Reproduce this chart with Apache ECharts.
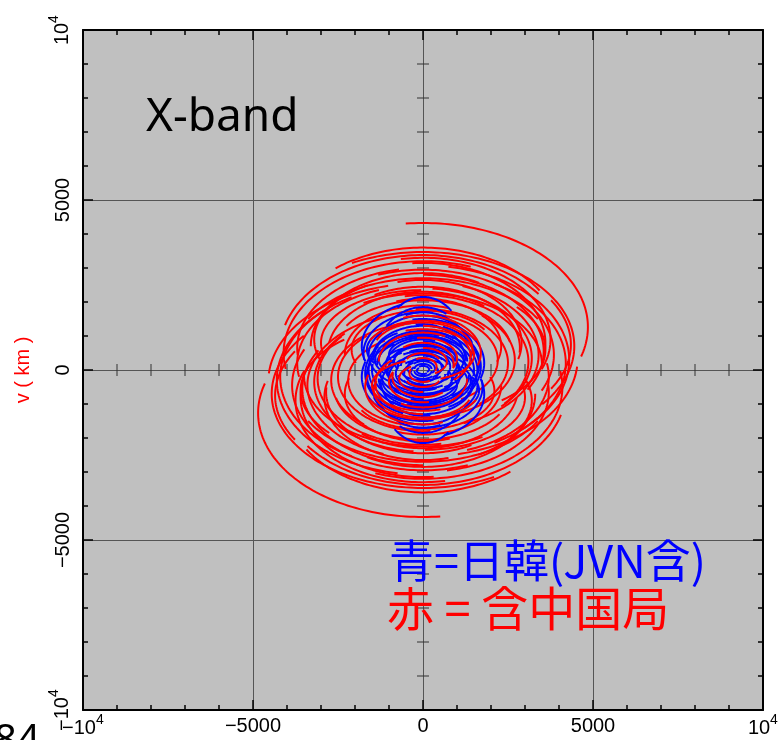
<!DOCTYPE html>
<html>
<head>
<meta charset="utf-8">
<script src="https://cdn.jsdelivr.net/npm/echarts@6/dist/echarts.min.js"></script>
<style>
  html, body { margin: 0; padding: 0; background: #ffffff; }
  #chart { width: 780px; height: 740px; }
</style>
</head>
<body>
<div id="chart"></div>
<script>
// ---- axis range (km) ----
const axisMin = -10000;
const axisMax = 10000;
const majorStep = 5000;
// inner tick labels; the ±10^4 end labels are drawn separately with a superscript
const axisLabelText = { '-5000': '−5000', '0': '0', '5000': '5000' };
const endLabelBase = { '-10000': '−10', '10000': '10' };
const endLabelExp = '4';
// small ticks drawn along the u = 0 and v = 0 lines
const zeroLineTicks = [-9000, -8000, -7000, -6000, -4000, -3000, -2000, -1000, 1000, 2000, 3000, 4000, 6000, 7000, 8000, 9000];

// ---- uv tracks: stations incl. China (red) ----
// top of the track (v at hour angle 0), ellipse centre v0, u semi-axis, hour-angle range (deg)
const redTop = [4324, 3600, 3470, 3380, 3350, 3300, 3250, 3200, 3150, 3080, 3000, 2950, 2900, 2850, 2800, 2750, 2700, 2650, 2600, 2550, 2500, 2450, 2400, 2350, 2300, 2250, 2200, 2100, 2050, 2000, 1900, 1800, 1750, 1650, 1600, 1450, 1400, 1300, 1200, 1100, 950, 800, 650, 500, 350];
const redV0  = [1265, 1000, 700, 600, 750, 900, 350, 500, 800, 300, 650, 450, 200, 700, 550, 900, 300, 800, 450, 600, 200, 650, 350, 800, 500, 150, 250, 700, 550, 300, 450, 200, 600, 300, 500, 300, 600, 400, 450, 250, 350, 200, 250, 150, 100];
const redA   = [4850, 4000, 4450, 4200, 4350, 3750, 4550, 4100, 3600, 4300, 3700, 3850, 4200, 3300, 3550, 3200, 3900, 2900, 3400, 3600, 3700, 2850, 3200, 3000, 2800, 3500, 3100, 2300, 2600, 2700, 2300, 2500, 2100, 2200, 1700, 1800, 1450, 1400, 1500, 1300, 1000, 900, 700, 550, 400];
const redH0  = [-6, -40, -28, -75, 60, -10, 95, -100, -5, 10, -95, -20, 30, -90, 0, -110, -60, -15, 20, 50, -100, -30, 5, -100, -80, -30, -10, -20, -60, 40, -90, -5, -110, 10, -20, -60, -70, 0, -20, -90, -10, -40, 0, -60, -30];
const redH1  = [107, 60, 128, 55, 120, 112, 168, 20, 100, 140, -10, 115, 150, 30, 120, -30, 60, 105, 160, 140, -20, 95, 135, 0, 40, 90, 130, 110, 80, 165, 20, 140, 60, 150, 110, 60, 110, 140, 160, 30, 120, 100, 150, 60, 120];

// ---- uv tracks: Japan-Korea incl. JVN (blue) ----
const blueTop = [2150, 1850, 2000, 1700, 1700, 1600, 1500, 1450, 1400, 1350, 1350, 1300, 1250, 1200, 1150, 1150, 1100, 1050, 1000, 1000, 950, 950, 900, 900, 850, 800, 750, 700, 700, 650, 600, 550, 500, 450, 420, 350, 300, 260, 180, 120];
const blueV0  = [400, 300, 700, 500, 200, 350, 200, 450, 600, 100, 250, 300, 150, 400, 0, 500, 250, 350, 150, 0, 300, 450, 100, 300, 200, 100, 150, 250, 200, 50, 100, 150, 120, 100, 80, 60, 80, 50, 30, 20];
const blueA   = [1300, 1400, 1800, 1750, 1500, 1550, 1800, 1600, 1650, 1700, 1250, 1500, 1650, 1450, 1600, 1200, 1300, 1400, 1350, 1500, 1200, 1000, 1100, 1300, 1000, 1250, 950, 850, 1150, 1050, 800, 900, 650, 750, 550, 450, 600, 350, 250, 180];
const blueH0  = [-35, -50, -110, -100, -20, -60, -10, -140, -120, 20, -10, -80, 40, -130, 0, -80, -60, -100, -90, -20, -20, -120, -110, -130, 0, 30, -70, -120, -60, 0, -30, -40, -90, -100, 0, -120, -60, -50, -90, -40];
const blueH1  = [40, 30, -20, 10, 60, 70, 110, -50, 0, 130, 90, 60, 140, -30, 120, 50, 90, 20, 40, 100, 130, 0, 20, -40, 140, 150, 80, 10, 60, 130, 120, 100, 60, 80, 150, 20, 140, 130, 90, 140];

// each track is an ellipse arc; its conjugate (-u, -v) is drawn as well
function buildTracks(top, v0, a, h0, h1, keep) {
  const out = [];
  for (let i = 0; i < top.length; i++) {
    if (!keep(a[i])) continue;
    const b = top[i] - v0[i];
    const arc = [];
    const conj = [];
    for (let h = h0[i]; h <= h1[i] + 1e-9; h += 1.5) {
      const r = h * Math.PI / 180;
      const u = a[i] * Math.sin(r);
      const v = v0[i] + b * Math.cos(r);
      arc.push([u, v]);
      conj.push([-u, -v]);
    }
    out.push({ coords: arc }, { coords: conj });
  }
  return out;
}

// long red baselines go under the blue tracks, short red ones over them
const redOuter = buildTracks(redTop, redV0, redA, redH0, redH1, a => a > 1800);
const redInner = buildTracks(redTop, redV0, redA, redH0, redH1, a => a <= 1800);
const blueTracks = buildTracks(blueTop, blueV0, blueA, blueH0, blueH1, () => true);

const labelFont = '"Liberation Sans", "DejaVu Sans", Arial, sans-serif';

function frameAxis(dim, position, showLabels) {
  return {
    type: 'value',
    position: position,
    min: axisMin,
    max: axisMax,
    interval: majorStep,
    axisLine: { show: true, onZero: false, lineStyle: { color: '#000', width: 2 } },
    axisTick: { show: true, inside: true, length: 10, lineStyle: { color: '#000', width: 1.5 } },
    minorTick: { show: true, splitNumber: 5, length: 5, lineStyle: { color: '#000', width: 1.5 } },
    splitLine: { show: showLabels, lineStyle: { color: '#555', width: 1 } },
    axisLabel: {
      show: showLabels,
      color: '#000',
      fontFamily: labelFont,
      fontSize: 20,
      margin: dim === 'x' ? 6 : 10,
      rotate: dim === 'y' ? 90 : 0,
      formatter: v => axisLabelText[String(v)] || ''
    }
  };
}

const chart = echarts.init(document.getElementById('chart'), null, { renderer: 'canvas' });
chart.setOption({
  animation: false,
  backgroundColor: '#ffffff',
  grid: { left: 83, top: 30, width: 680, height: 680, show: true, backgroundColor: '#c0c0c0', borderWidth: 0 },
  xAxis: [frameAxis('x', 'bottom', true), frameAxis('x', 'top', false)],
  yAxis: [frameAxis('y', 'left', true), frameAxis('y', 'right', false)],
  series: [
    {
      type: 'custom',
      silent: true,
      data: zeroLineTicks.map(v => [v]),
      renderItem: function (params, api) {
        const t = api.value(0);
        const px = api.coord([t, 0]);
        const py = api.coord([0, t]);
        const style = { stroke: '#333', lineWidth: 1 };
        return {
          type: 'group',
          children: [
            { type: 'line', shape: { x1: px[0], y1: px[1] - 6, x2: px[0], y2: px[1] + 6 }, style: style },
            { type: 'line', shape: { x1: py[0] - 6, y1: py[1], x2: py[0] + 6, y2: py[1] }, style: style }
          ]
        };
      },
      z: 1
    },
    {
      type: 'lines', coordinateSystem: 'cartesian2d', polyline: true, silent: true,
      lineStyle: { color: '#ff0000', width: 2, opacity: 1 },
      data: redOuter, z: 2
    },
    {
      type: 'lines', coordinateSystem: 'cartesian2d', polyline: true, silent: true,
      lineStyle: { color: '#0000ff', width: 2, opacity: 1 },
      data: blueTracks, z: 3
    },
    {
      type: 'lines', coordinateSystem: 'cartesian2d', polyline: true, silent: true,
      lineStyle: { color: '#ff0000', width: 2, opacity: 1 },
      data: redInner, z: 4
    }
  ]
});

// "10^4" end labels: base text plus a raised exponent, centred on the axis end
function powerLabel(base, x, y, rotation) {
  const baseW = base.length === 3 ? 34 : 22;   // width of "−10" / "10" at 20px
  const expW = 8;                               // width of "4" at 14px
  const left = -(baseW + expW) / 2;
  return {
    type: 'group', x: x, y: y, rotation: rotation, z: 10,
    children: [
      { type: 'text', x: left, y: 0, style: { text: base, fill: '#000', font: '20px ' + labelFont, textAlign: 'left', textVerticalAlign: 'middle' } },
      { type: 'text', x: left + baseW, y: -8, style: { text: endLabelExp, fill: '#000', font: '14px ' + labelFont, textAlign: 'left', textVerticalAlign: 'middle' } }
    ]
  };
}

const endLabels = [];
[axisMin, axisMax].forEach(function (v) {
  const gx = chart.convertToPixel({ xAxisIndex: 0 }, v);
  const gy = chart.convertToPixel({ yAxisIndex: 0 }, v);
  endLabels.push(powerLabel(endLabelBase[String(v)], gx, 728, 0));
  endLabels.push(powerLabel(endLabelBase[String(v)], 62, gy, Math.PI / 2));
});

chart.setOption({
  graphic: endLabels.concat([
    {
      type: 'text', x: 23, y: 370, rotation: Math.PI / 2, z: 10,
      style: { text: 'v ( km )', fill: '#ff0000', font: '20px "Liberation Sans", Arial, sans-serif', textAlign: 'center', textVerticalAlign: 'middle' }
    },
    {
      type: 'text', left: 146, top: 95, z: 10,
      style: { text: 'X-band', fill: '#000', font: '46px "Noto Sans", sans-serif' }
    },
    {
      type: 'text', left: 389, top: 538, z: 10,
      style: { text: '青=日韓(JVN含)', fill: '#0000ff', font: '45px "Noto Sans CJK JP", sans-serif' }
    },
    {
      type: 'text', left: 387, top: 585, z: 10,
      style: { text: '赤 = 含中国局', fill: '#ff0000', font: '47px "Noto Sans CJK JP", sans-serif' }
    },
    {
      type: 'text', left: -6, top: 722, z: 10,
      style: { text: '84', fill: '#000', font: '40px "Noto Sans", sans-serif' }
    }
  ])
});
</script>
</body>
</html>
